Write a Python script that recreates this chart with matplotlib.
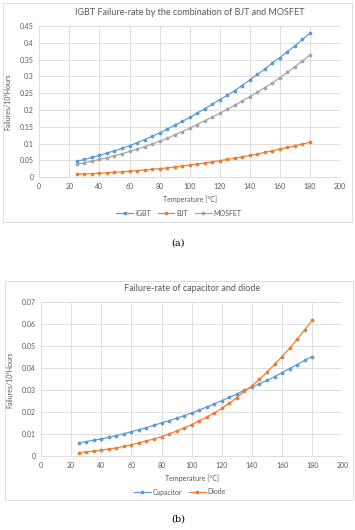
import numpy as np
import matplotlib
matplotlib.use('Agg')
import matplotlib.pyplot as plt
from matplotlib.patches import Rectangle

plt.rcParams['font.family'] = ['Lato', 'DejaVu Sans']

# temperature axis (deg C)
temp = list(range(25, 181, 5))

# chart (a)
igbt = [0.048, 0.053, 0.059, 0.065, 0.072, 0.079, 0.086, 0.094, 0.103, 0.112,
        0.122, 0.132, 0.143, 0.155, 0.166, 0.178, 0.191, 0.204, 0.217, 0.231,
        0.244, 0.258, 0.273, 0.290, 0.306, 0.322, 0.340, 0.356, 0.374, 0.391,
        0.410, 0.429]
bjt = [0.009, 0.010, 0.011, 0.012, 0.0135, 0.015, 0.0163, 0.018, 0.0198, 0.0216,
       0.0236, 0.0257, 0.028, 0.0305, 0.0333, 0.0364, 0.0395, 0.0428, 0.046, 0.0495,
       0.053, 0.057, 0.061, 0.065, 0.069, 0.074, 0.079, 0.084, 0.089, 0.094,
       0.099, 0.104]
mosfet = [0.039, 0.044, 0.048, 0.053, 0.058, 0.064, 0.070, 0.077, 0.084, 0.091,
          0.099, 0.107, 0.116, 0.126, 0.136, 0.146, 0.157, 0.168, 0.179, 0.190,
          0.202, 0.214, 0.227, 0.240, 0.253, 0.267, 0.281, 0.296, 0.312, 0.329,
          0.346, 0.363]

# chart (b)
capacitor = [0.0061, 0.0067, 0.0073, 0.0079, 0.0086, 0.0094, 0.0103, 0.0112, 0.0121, 0.0130,
             0.0141, 0.0152, 0.0162, 0.0173, 0.0185, 0.0197, 0.0210, 0.0224, 0.0238, 0.0253,
             0.0268, 0.0283, 0.0300, 0.0314, 0.0329, 0.0345, 0.0362, 0.0380, 0.0399, 0.0417,
             0.0436, 0.0453]
diode = [0.0017, 0.0020, 0.0024, 0.0029, 0.0033, 0.0038, 0.0045, 0.0053, 0.0061, 0.0070,
         0.0079, 0.0089, 0.0102, 0.0115, 0.0129, 0.0144, 0.0161, 0.0178, 0.0197, 0.0218,
         0.0241, 0.0267, 0.0295, 0.0320, 0.0350, 0.0382, 0.0418, 0.0453, 0.0491, 0.0532,
         0.0574, 0.0618]

blue = '#5B9BD5'
orange = '#ED7D31'
grey = '#A5A5A5'
txt = '#595959'

W, H = 355, 530
fig = plt.figure(figsize=(W / 100, H / 100), dpi=100)


def px_axes(x0, y0, x1, y1):
    return fig.add_axes([x0 / W, 1 - y1 / H, (x1 - x0) / W, (y1 - y0) / H])


def style(ax, ymax, ystep, fmt):
    ax.set_xlim(0, 200)
    ax.set_ylim(0, ymax)
    ax.set_xticks(range(0, 201, 20))
    yt = np.arange(0, ymax + ystep / 2, ystep)
    ax.set_yticks(yt)
    ax.set_yticklabels([fmt(v) for v in yt])
    ax.grid(True, color='#D9D9D9', linewidth=0.6)
    ax.set_axisbelow(True)
    for s in ['top', 'right', 'left']:
        ax.spines[s].set_visible(False)
    ax.spines['bottom'].set_color('#D9D9D9')
    ax.spines['bottom'].set_linewidth(0.6)
    ax.tick_params(length=0, labelsize=5, colors=txt, pad=4)
    ax.set_xlabel('Temperature [\u00b0C]', fontsize=5, color=txt, labelpad=4)
    ax.set_ylabel('Failures/10\u2076Hours', fontsize=5, color=txt, labelpad=6)


def fmt_a(v):
    s = ('%.2f' % v).rstrip('0').rstrip('.')
    return s


def fmt_b(v):
    return '0' if v == 0 else '%.2f' % v


# chart area borders
fig.patches.append(Rectangle((3 / W, 1 - 222 / H), 349 / W, 219 / H,
                             transform=fig.transFigure, fill=False,
                             edgecolor='#D9D9D9', linewidth=0.6))
fig.patches.append(Rectangle((5 / W, 1 - 500 / H), 348 / W, 219 / H,
                             transform=fig.transFigure, fill=False,
                             edgecolor='#D9D9D9', linewidth=0.6))

kw = dict(marker='o', markersize=1.7, linewidth=0.85)

ax1 = px_axes(39.3, 26, 340, 177.3)
ax1.plot(temp, igbt, color=blue, label='IGBT', **kw)
ax1.plot(temp, bjt, color=orange, label='BJT', **kw)
ax1.plot(temp, mosfet, color=grey, label='MOSFET', **kw)
style(ax1, 0.45, 0.05, fmt_a)
ax1.set_title('IGBT Failure-rate by the combination of BJT and MOSFET',
              fontsize=6.5, color=txt, pad=8)
ax1.legend(loc='center', bbox_to_anchor=(179 / W, 1 - 213 / H),
           bbox_transform=fig.transFigure, ncol=3, frameon=False,
           fontsize=5, labelcolor=txt, handlelength=2.4, columnspacing=1.0,
           handletextpad=0.3)
fig.text(178 / W, 1 - 243 / H, '(a)', ha='center', va='center',
         fontsize=7, family='DejaVu Serif')

ax2 = px_axes(41, 302.3, 342.3, 456.3)
ax2.plot(temp, capacitor, color=blue, label='Capacitor', **kw)
ax2.plot(temp, diode, color=orange, label='Diode', **kw)
style(ax2, 0.07, 0.01, fmt_b)
ax2.set_title('Failure-rate of capacitor and diode',
              fontsize=6.5, color=txt, pad=8)
ax2.legend(loc='center', bbox_to_anchor=(180 / W, 1 - 492 / H),
           bbox_transform=fig.transFigure, ncol=2, frameon=False,
           fontsize=5, labelcolor=txt, handlelength=2.4, columnspacing=1.0,
           handletextpad=0.3)
fig.text(178 / W, 1 - 519 / H, '(b)', ha='center', va='center',
         fontsize=7, family='DejaVu Serif')

fig.savefig('out.png', dpi=100)
